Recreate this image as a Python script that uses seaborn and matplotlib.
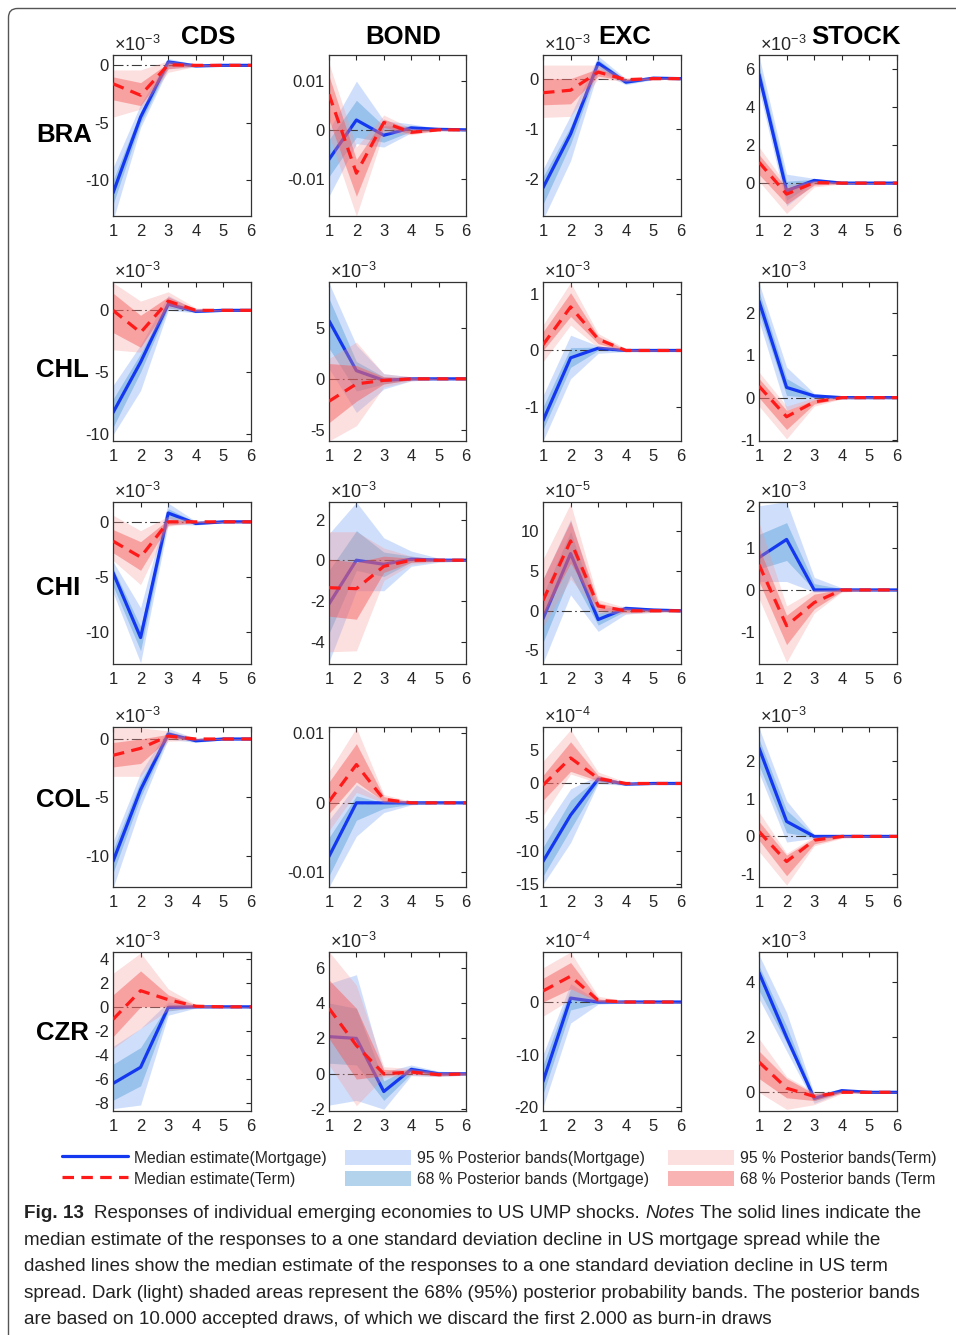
import matplotlib
matplotlib.use("Agg")
import matplotlib.pyplot as plt
import seaborn as sns
import numpy as np
from matplotlib import font_manager as fm
from matplotlib.lines import Line2D
from matplotlib.patches import Patch, FancyBboxPatch
from matplotlib.transforms import IdentityTransform, offset_copy
from matplotlib.ticker import FuncFormatter

# ---------------- data ----------------
HORIZON = [1, 2, 3, 4, 5, 6]
COUNTRIES = ["BRA", "CHL", "CHI", "COL", "CZR"]
VARIABLES = ["CDS", "BOND", "EXC", "STOCK"]
# each panel: [median, lo68, hi68, lo95, hi95]; MORT = mortgage shock, TERM = term shock
BRA_CDS_MORT = [[-11.1, -4.5, 0.3, -0.05, 0, 0], [-12.1, -5.0, -0.1, -0.1, -0.03, -0.02], [-10.0, -4.0, 0.45, 0.05, 0.03, 0.02],
                [-13.5, -5.4, -0.3, -0.15, -0.05, -0.03], [-8.9, -3.4, 0.6, 0.1, 0.05, 0.03]]
BRA_CDS_TERM = [[-1.6, -2.6, 0.05, 0, 0, 0], [-3.0, -3.5, -0.3, -0.05, -0.02, -0.02], [-1.0, -1.5, 0.2, 0.05, 0.02, 0.02],
                [-4.5, -3.8, -0.6, -0.1, -0.04, -0.03], [-0.4, -0.4, 0.4, 0.1, 0.04, 0.03]]
BRA_BOND_MORT = [[-0.006, 0.002, -0.0011, 0.0004, 0.0001, 0], [-0.0095, -0.0015, -0.0025, -0.0003, -0.0001, -0.0001],
                 [-0.002, 0.006, 0.0008, 0.0008, 0.0002, 0.0001], [-0.0135, -0.0028, -0.0035, -0.0006, -0.0002, -0.0001],
                 [0.0, 0.0099, 0.0019, 0.0012, 0.0003, 0.0001]]
BRA_BOND_TERM = [[0.0072, -0.0088, 0.0015, -0.0005, 0, 0], [0.002, -0.0135, 0.0005, -0.0008, -0.0001, -0.0001],
                 [0.011, -0.006, 0.0022, 0.0, 0.0001, 0.0001], [-0.001, -0.0175, -0.0005, -0.001, -0.0002, -0.0001],
                 [0.0135, -0.0035, 0.003, 0.0003, 0.0002, 0.0001]]
BRA_EXC_MORT = [[-2.17, -1.1, 0.31, -0.07, 0.01, 0], [-2.5, -1.3, 0.22, -0.1, -0.01, -0.01], [-1.95, -0.95, 0.38, -0.03, 0.02, 0.01],
                [-2.8, -1.63, 0.15, -0.12, -0.02, -0.01], [-1.8, -0.73, 0.45, 0.0, 0.03, 0.01]]
BRA_EXC_TERM = [[-0.28, -0.23, 0.13, -0.02, 0, 0], [-0.52, -0.5, 0.05, -0.04, -0.01, -0.01], [0.0, 0.0, 0.2, 0.0, 0.01, 0.01],
                [-0.77, -0.75, 0.0, -0.06, -0.02, -0.01], [0.27, 0.27, 0.27, 0.02, 0.02, 0.01]]
BRA_STOCK_MORT = [[5.72, -0.4, 0.14, 0.0, 0, 0], [5.3, -0.9, 0.05, -0.03, -0.02, -0.01], [6.2, 0.1, 0.2, 0.03, 0.02, 0.01],
                  [4.9, -1.2, -0.05, -0.05, -0.03, -0.02], [6.7, 0.47, 0.25, 0.05, 0.03, 0.02]]
BRA_STOCK_TERM = [[1.1, -0.58, 0.03, 0, 0, 0], [0.45, -1.1, -0.1, -0.03, -0.02, -0.01], [1.5, -0.25, 0.1, 0.03, 0.02, 0.01],
                  [0.1, -1.6, -0.2, -0.05, -0.03, -0.02], [1.9, -0.1, 0.15, 0.05, 0.03, 0.02]]

CHL_CDS_MORT = [[-8.3, -4.2, 0.5, -0.08, 0, 0], [-9.5, -5.0, 0.2, -0.15, -0.05, -0.03], [-7.2, -3.5, 0.8, 0.0, 0.05, 0.03],
                [-10.1, -6.5, 0.0, -0.2, -0.08, -0.05], [-6.1, -2.8, 1.2, 0.05, 0.08, 0.05]]
CHL_CDS_TERM = [[0.0, -1.8, 0.75, 0.0, 0, 0], [-1.8, -3.0, 0.4, -0.05, -0.03, -0.02], [1.4, -0.4, 1.1, 0.1, 0.03, 0.02],
                [-3.2, -3.4, 0.2, -0.1, -0.05, -0.03], [2.25, 0.75, 1.5, 0.2, 0.05, 0.03]]
CHL_BOND_MORT = [[5.7, 0.8, -0.15, 0.0, 0, 0], [3.0, -1.2, -0.5, -0.1, -0.03, -0.02], [7.9, 1.7, 0.2, 0.1, 0.03, 0.02],
                 [1.0, -3.3, -1.0, -0.2, -0.05, -0.03], [9.4, 3.3, 0.5, 0.2, 0.05, 0.03]]
CHL_BOND_TERM = [[-2.2, -0.5, -0.15, 0.0, 0, 0], [-4.3, -2.2, -0.5, -0.1, -0.03, -0.02], [1.5, 1.3, 0.2, 0.1, 0.03, 0.02],
                 [-6.1, -4.6, -0.8, -0.2, -0.05, -0.03], [2.0, 3.6, 0.5, 0.2, 0.05, 0.03]]
CHL_EXC_MORT = [[-1.24, -0.13, 0.04, 0.0, 0, 0], [-1.4, -0.3, 0.0, -0.01, -0.01, -0.005], [-1.0, 0.05, 0.06, 0.01, 0.01, 0.005],
                [-1.6, -0.5, -0.05, -0.02, -0.01, -0.01], [-0.8, 0.27, 0.08, 0.02, 0.01, 0.01]]
CHL_EXC_TERM = [[0.1, 0.77, 0.2, 0.0, 0, 0], [0.0, 0.6, 0.12, -0.01, -0.01, -0.005], [0.33, 1.02, 0.25, 0.01, 0.01, 0.005],
                [-0.2, 0.45, 0.05, -0.02, -0.01, -0.01], [0.45, 1.2, 0.3, 0.03, 0.01, 0.01]]
CHL_STOCK_MORT = [[2.27, 0.24, 0.04, 0.0, 0, 0], [2.0, 0.05, 0.0, -0.01, -0.01, -0.01], [2.5, 0.45, 0.07, 0.02, 0.01, 0.01],
                  [1.8, -0.3, -0.05, -0.02, -0.01, -0.01], [2.7, 0.72, 0.1, 0.03, 0.02, 0.01]]
CHL_STOCK_TERM = [[0.27, -0.45, -0.1, 0.0, 0, 0], [0.0, -0.75, -0.15, -0.02, -0.01, -0.01], [0.45, -0.3, -0.05, 0.01, 0.01, 0.01],
                  [-0.2, -0.97, -0.2, -0.03, -0.02, -0.01], [0.6, -0.2, 0.0, 0.02, 0.02, 0.01]]

CHI_CDS_MORT = [[-4.6, -10.5, 0.8, -0.15, 0, 0], [-5.8, -11.7, 0.3, -0.2, -0.05, -0.03], [-4.2, -9.5, 1.2, -0.05, 0.05, 0.03],
                [-6.4, -12.8, -0.2, -0.3, -0.08, -0.05], [-3.6, -7.8, 1.7, 0.05, 0.08, 0.05]]
CHI_CDS_TERM = [[-1.75, -3.2, 0.0, 0.0, 0, 0], [-2.8, -4.4, -0.3, -0.05, -0.03, -0.02], [-0.7, -1.8, 0.2, 0.05, 0.03, 0.02],
                [-3.5, -5.7, -0.4, -0.1, -0.05, -0.03], [0.6, -0.8, 0.5, 0.1, 0.05, 0.03]]
CHI_BOND_MORT = [[-2.15, 0.0, -0.2, 0.05, 0, 0], [-3.6, -0.5, -0.8, -0.1, -0.05, -0.02], [-0.5, 1.45, 0.4, 0.2, 0.05, 0.02],
                 [-5.0, -1.5, -1.5, -0.3, -0.1, -0.05], [1.3, 2.85, 1.1, 0.45, 0.1, 0.05]]
CHI_BOND_TERM = [[-1.35, -1.4, -0.3, 0.0, 0, 0], [-2.75, -2.9, -0.6, -0.1, -0.05, -0.02], [0.05, -0.1, 0.2, 0.1, 0.05, 0.02],
                 [-4.5, -4.45, -1.0, -0.2, -0.08, -0.04], [1.4, 1.4, 0.6, 0.2, 0.08, 0.04]]
CHI_EXC_MORT = [[-1.0, 7.2, -1.1, 0.3, 0.1, 0], [-4.0, 4.5, -1.8, 0.0, -0.1, -0.05], [2.0, 10.0, -0.3, 0.5, 0.2, 0.05],
                [-6.6, 2.0, -2.6, -0.4, -0.2, -0.1], [4.0, 11.5, 0.3, 0.6, 0.3, 0.1]]
CHI_EXC_TERM = [[1.3, 8.8, 0.6, 0.0, 0, 0], [-0.5, 6.0, 0.1, -0.2, -0.1, -0.05], [4.0, 11.3, 1.0, 0.2, 0.1, 0.05],
                [-2.0, 4.0, -0.3, -0.4, -0.2, -0.1], [6.5, 13.5, 1.4, 0.4, 0.2, 0.1]]
CHI_STOCK_MORT = [[0.77, 1.2, 0.0, 0.0, 0, 0], [0.5, 0.7, 0.0, -0.02, -0.01, -0.01], [1.32, 1.6, 0.15, 0.03, 0.01, 0.01],
                  [0.2, 0.2, -0.05, -0.04, -0.02, -0.01], [2.0, 2.1, 0.3, 0.05, 0.02, 0.01]]
CHI_STOCK_TERM = [[0.6, -0.85, -0.3, 0.0, 0, 0], [0.2, -1.3, -0.45, -0.03, -0.01, -0.01], [1.0, -0.6, -0.1, 0.02, 0.01, 0.01],
                  [-0.2, -1.72, -0.55, -0.05, -0.02, -0.01], [1.6, -0.38, 0.0, 0.03, 0.02, 0.01]]

COL_CDS_MORT = [[-10.5, -4.35, 0.43, -0.15, 0, 0], [-11.5, -5.0, 0.2, -0.2, -0.05, -0.03], [-9.5, -3.6, 0.65, -0.05, 0.05, 0.03],
                [-12.8, -5.8, 0.0, -0.3, -0.08, -0.05], [-8.8, -2.9, 0.9, 0.05, 0.08, 0.05]]
COL_CDS_TERM = [[-1.4, -0.8, 0.25, 0.0, 0, 0], [-2.4, -2.1, 0.0, -0.05, -0.03, -0.02], [-0.3, 0.0, 0.4, 0.05, 0.03, 0.02],
                [-3.2, -3.2, -0.2, -0.1, -0.05, -0.03], [0.95, 0.95, 0.7, 0.1, 0.05, 0.03]]
COL_BOND_MORT = [[-0.0077, 0.0, 0.0, 0.0, 0, 0], [-0.0105, -0.0025, -0.0008, -0.0002, -0.0001, 0.0],
                 [-0.005, 0.001, 0.0, 0.0, 0.0, 0.0], [-0.0121, -0.0048, -0.0014, -0.0003, -0.0001, -0.0001],
                 [-0.0025, 0.0026, 0.0003, 0.0001, 0.0001, 0.0001]]
COL_BOND_TERM = [[0.0002, 0.0055, 0.0005, 0.0, 0, 0], [-0.0015, 0.003, 0.0002, 0.0, 0.0, 0.0],
                 [0.003, 0.0085, 0.0009, 0.0001, 0.0, 0.0], [-0.004, 0.0015, 0.0, -0.0001, -0.0001, 0.0],
                 [0.0045, 0.0108, 0.0012, 0.0002, 0.0001, 0.0001]]
COL_EXC_MORT = [[-11.6, -4.7, 0.65, -0.1, 0, 0], [-13.8, -6.8, 0.2, -0.2, -0.05, -0.03], [-9.5, -2.5, 0.9, 0.0, 0.05, 0.03],
                [-15.0, -8.8, 0.0, -0.3, -0.1, -0.05], [-7.0, -0.8, 1.2, 0.1, 0.1, 0.05]]
COL_EXC_TERM = [[-0.25, 3.8, 0.75, 0.0, 0, 0], [-2.5, 1.8, 0.4, -0.1, -0.05, -0.03], [1.2, 6.2, 1.2, 0.1, 0.05, 0.03],
                [-4.8, 1.4, 0.1, -0.2, -0.1, -0.05], [3.3, 8.0, 1.7, 0.2, 0.1, 0.05]]
COL_STOCK_MORT = [[2.36, 0.4, 0.0, 0.0, 0, 0], [1.9, 0.1, -0.03, -0.02, -0.01, -0.01], [2.6, 0.7, 0.03, 0.02, 0.01, 0.01],
                  [1.7, -0.15, -0.05, -0.03, -0.02, -0.01], [2.9, 0.95, 0.05, 0.03, 0.02, 0.01]]
COL_STOCK_TERM = [[0.13, -0.67, -0.1, 0.0, 0, 0], [-0.1, -1.05, -0.2, -0.03, -0.01, -0.01], [0.4, -0.5, -0.05, 0.02, 0.01, 0.01],
                  [-0.4, -1.3, -0.25, -0.05, -0.02, -0.01], [0.65, -0.45, 0.0, 0.03, 0.02, 0.01]]

CZR_CDS_MORT = [[-6.4, -5.05, -0.05, 0.0, 0, 0], [-7.8, -6.6, -0.35, -0.05, -0.03, -0.02], [-4.8, -3.4, 0.2, 0.05, 0.03, 0.02],
                [-8.5, -8.2, -0.7, -0.1, -0.05, -0.03], [-3.3, -1.8, 0.4, 0.1, 0.05, 0.03]]
CZR_CDS_TERM = [[-1.05, 1.35, 0.6, 0.05, 0, 0], [-2.5, 0.0, 0.0, -0.05, -0.03, -0.02], [1.0, 3.0, 1.0, 0.15, 0.03, 0.02],
                [-3.5, -1.8, -0.3, -0.1, -0.05, -0.03], [2.8, 4.5, 1.5, 0.2, 0.05, 0.03]]
CZR_BOND_MORT = [[2.1, 2.0, -1.0, 0.25, 0.0, 0.0], [0.6, 0.5, -1.5, 0.0, -0.1, -0.05], [4.0, 3.7, -0.4, 0.4, 0.1, 0.05],
                 [-1.77, -1.5, -2.0, -0.1, -0.15, -0.08], [5.1, 5.6, 0.1, 0.5, 0.15, 0.08]]
CZR_BOND_TERM = [[3.7, 1.6, 0.0, 0.1, -0.05, 0.0], [2.0, -0.3, -0.1, 0.0, -0.1, -0.05], [5.3, 3.7, 0.25, 0.2, 0.05, 0.05],
                 [0.5, -1.8, -0.2, -0.1, -0.15, -0.08], [6.9, 5.0, 0.4, 0.3, 0.1, 0.08]]
CZR_EXC_MORT = [[-15.1, 0.75, 0.0, 0.0, 0, 0], [-17.5, -1.5, -0.2, -0.1, -0.05, -0.03], [-12.0, 2.5, 0.2, 0.1, 0.05, 0.03],
                [-20.0, -4.0, -0.4, -0.2, -0.1, -0.05], [-10.0, 3.5, 0.3, 0.2, 0.1, 0.05]]
CZR_EXC_TERM = [[2.1, 4.9, 0.3, 0.0, 0, 0], [0.0, 2.5, 0.1, -0.1, -0.05, -0.03], [4.5, 7.5, 0.6, 0.1, 0.05, 0.03],
                [-2.7, 0.5, -0.1, -0.2, -0.1, -0.05], [6.5, 9.5, 1.1, 0.2, 0.1, 0.05]]
CZR_STOCK_MORT = [[4.35, 2.0, -0.22, 0.06, 0.0, 0.0], [3.7, 1.8, -0.3, 0.02, -0.02, -0.01], [4.6, 2.4, -0.12, 0.1, 0.02, 0.01],
                  [3.4, 1.5, -0.4, 0.0, -0.03, -0.02], [5.0, 2.9, -0.05, 0.12, 0.03, 0.02]]
CZR_STOCK_TERM = [[1.1, 0.15, -0.15, 0.0, 0, 0], [0.5, -0.2, -0.3, -0.03, -0.01, -0.01], [1.5, 0.5, -0.05, 0.03, 0.01, 0.01],
                  [0.0, -0.62, -0.45, -0.05, -0.02, -0.01], [1.95, 0.57, 0.0, 0.05, 0.02, 0.01]]

# y tick values, exponents of the "x10^n" labels, y ranges (per country row, per variable column)
BRA_YTICKS = [[-10, -5, 0], [-0.01, 0, 0.01], [-2, -1, 0], [0, 2, 4, 6]]
CHL_YTICKS = [[-10, -5, 0], [-5, 0, 5], [-1, 0, 1], [-1, 0, 1, 2]]
CHI_YTICKS = [[-10, -5, 0], [-4, -2, 0, 2], [-5, 0, 5, 10], [-1, 0, 1, 2]]
COL_YTICKS = [[-10, -5, 0], [-0.01, 0, 0.01], [-15, -10, -5, 0, 5], [-1, 0, 1, 2]]
CZR_YTICKS = [[-8, -6, -4, -2, 0, 2, 4], [-2, 0, 2, 4, 6], [-20, -10, 0], [0, 2, 4]]
BRA_EXP = [-3, None, -3, -3]
CHL_EXP = [-3, -3, -3, -3]
CHI_EXP = [-3, -3, -5, -3]
COL_EXP = [-3, None, -4, -3]
CZR_EXP = [-3, -3, -4, -3]
BRA_YLIM = [(-13.1, 0.9), (-0.0175, 0.0152), (-2.73, 0.47), (-1.73, 6.74)]
CHL_YLIM = [(-10.6, 2.3), (-6.1, 9.5), (-1.6, 1.21), (-1.02, 2.72)]
CHI_YLIM = [(-12.9, 1.8), (-5.1, 2.86), (-6.7, 13.7), (-1.76, 2.09)]
COL_YLIM = [(-12.7, 1.03), (-0.0121, 0.0109), (-15.4, 8.4), (-1.35, 2.92)]
CZR_YLIM = [(-8.7, 4.58), (-2.1, 6.88), (-20.7, 9.5), (-0.68, 5.1)]

LEGEND_LABELS = ["Median estimate(Mortgage)", "Median estimate(Term)",
                 "95 % Posterior bands(Mortgage)", "68 % Posterior bands (Mortgage)",
                 "95 % Posterior bands(Term)", "68 % Posterior bands (Term"]
CAPTION_LINES = [
    None,
    "median estimate of the responses to a one standard deviation decline in US mortgage spread while the",
    "dashed lines show the median estimate of the responses to a one standard deviation decline in US term",
    "spread. Dark (light) shaded areas represent the 68% (95%) posterior probability bands. The posterior bands",
    "are based on 10.000 accepted draws, of which we discard the first 2.000 as burn-in draws",
]
CAPTION_FIRST = [("Fig. 13", "bold", "normal"),
                 ("Responses of individual emerging economies to US UMP shocks.", "normal", "normal"),
                 ("Notes", "normal", "italic"),
                 ("The solid lines indicate the", "normal", "normal")]

# ---------------- style ----------------
sns.set_theme(style="white")
plt.rcParams["font.family"] = ["Liberation Sans", "DejaVu Sans"]
plt.rcParams["axes.unicode_minus"] = False
plt.rcParams["mathtext.fontset"] = "custom"
plt.rcParams["mathtext.rm"] = "Liberation Sans"
plt.rcParams["mathtext.it"] = "Liberation Sans:italic"
plt.rcParams["mathtext.bf"] = "Liberation Sans:bold"

names = {f.name for f in fm.fontManager.ttflist}
CAP_FAMILY = ["Liberation Sans Narrow", "Liberation Sans"] if "Liberation Sans Narrow" in names else ["Liberation Sans"]

BLUE = "#1438f0"
RED = "#ff1a1a"
B95, A95 = (0.39, 0.59, 0.96), 0.30
B68, A68 = (0.34, 0.62, 0.85), 0.45
R95, AR95 = (0.97, 0.59, 0.59), 0.30
R68, AR68 = (0.96, 0.34, 0.34), 0.45
DASH = (0, (3.6, 2.3))
TXT = "#262626"

W, H = 956, 1335
fig = plt.figure(figsize=(W / 100, H / 100), dpi=100)
fig.patch.set_facecolor("white")

COLS_PX = [(113, 251), (329, 466), (543, 681), (759, 897)]
ROWS_PX = [(55, 216), (282, 441), (502, 664), (727, 887), (952, 1111)]

ROW_DATA = {
    "BRA": ([BRA_CDS_MORT, BRA_BOND_MORT, BRA_EXC_MORT, BRA_STOCK_MORT],
            [BRA_CDS_TERM, BRA_BOND_TERM, BRA_EXC_TERM, BRA_STOCK_TERM], BRA_YTICKS, BRA_EXP, BRA_YLIM),
    "CHL": ([CHL_CDS_MORT, CHL_BOND_MORT, CHL_EXC_MORT, CHL_STOCK_MORT],
            [CHL_CDS_TERM, CHL_BOND_TERM, CHL_EXC_TERM, CHL_STOCK_TERM], CHL_YTICKS, CHL_EXP, CHL_YLIM),
    "CHI": ([CHI_CDS_MORT, CHI_BOND_MORT, CHI_EXC_MORT, CHI_STOCK_MORT],
            [CHI_CDS_TERM, CHI_BOND_TERM, CHI_EXC_TERM, CHI_STOCK_TERM], CHI_YTICKS, CHI_EXP, CHI_YLIM),
    "COL": ([COL_CDS_MORT, COL_BOND_MORT, COL_EXC_MORT, COL_STOCK_MORT],
            [COL_CDS_TERM, COL_BOND_TERM, COL_EXC_TERM, COL_STOCK_TERM], COL_YTICKS, COL_EXP, COL_YLIM),
    "CZR": ([CZR_CDS_MORT, CZR_BOND_MORT, CZR_EXC_MORT, CZR_STOCK_MORT],
            [CZR_CDS_TERM, CZR_BOND_TERM, CZR_EXC_TERM, CZR_STOCK_TERM], CZR_YTICKS, CZR_EXP, CZR_YLIM),
}

fmt = FuncFormatter(lambda v, p: "{:g}".format(round(v, 6)) if v != 0 else "0")

for i, country in enumerate(COUNTRIES):
    morts, terms, yticks, exps, ylims = ROW_DATA[country]
    top, bot = ROWS_PX[i]
    for j, var in enumerate(VARIABLES):
        l, r = COLS_PX[j]
        ax = fig.add_axes([l / W, 1 - bot / H, (r - l) / W, (bot - top) / H])
        M, T = morts[j], terms[j]
        ax.fill_between(HORIZON, M[3], M[4], color=B95, alpha=A95, lw=0, zorder=1)
        ax.fill_between(HORIZON, M[1], M[2], color=B68, alpha=A68, lw=0, zorder=1.1)
        ax.axhline(0, color="#3a3a3a", lw=0.8, linestyle=(0, (9, 3, 1.5, 3)), zorder=1.5)
        sns.lineplot(x=HORIZON, y=M[0], color=BLUE, lw=2.3, ax=ax, zorder=2)
        ax.fill_between(HORIZON, T[3], T[4], color=R95, alpha=AR95, lw=0, zorder=2.1)
        ax.fill_between(HORIZON, T[1], T[2], color=R68, alpha=AR68, lw=0, zorder=2.2)
        sns.lineplot(x=HORIZON, y=T[0], color=RED, lw=2.3, linestyle=DASH, ax=ax, zorder=3)
        ax.set_xlim(1, 6)
        ax.set_xticks(HORIZON)
        ax.set_ylim(*ylims[j])
        ax.set_yticks(yticks[j])
        ax.yaxis.set_major_formatter(fmt)
        ax.set_xlabel("")
        ax.set_ylabel("")
        ax.tick_params(direction="in", length=3.5, width=0.8, top=True, right=True,
                       labelsize=12, colors=TXT)
        ax.tick_params(axis="x", pad=6)
        ax.tick_params(axis="y", pad=3)
        for s in ax.spines.values():
            s.set_visible(True)
            s.set_color("#333333")
            s.set_linewidth(0.9)
        if exps[j] is not None:
            tr = offset_copy(ax.transAxes, fig=fig, x=1, y=4, units="dots")
            ax.text(0, 1, r"$\times10^{%d}$" % exps[j], transform=tr, ha="left", va="baseline",
                    fontsize=13, color=TXT)

# column titles
TITLE_X = [208, 403, 625, 856]
for x, v in zip(TITLE_X, VARIABLES):
    fig.text(x / W, 1 - 43.5 / H, v, ha="center", va="baseline", fontsize=18.5, fontweight="bold", color="black")
# row labels
ROW_BASE = [142, 377, 595, 807, 1040]
for yb, c in zip(ROW_BASE, COUNTRIES):
    fig.text(36 / W, 1 - yb / H, c, ha="left", va="baseline", fontsize=18.5, fontweight="bold", color="black")

# legend (three columns)
handles = [Line2D([], [], color=BLUE, lw=2.3), Line2D([], [], color=RED, lw=2.3, linestyle=DASH),
           Patch(facecolor=B95, alpha=A95, lw=0), Patch(facecolor=B68, alpha=A68, lw=0),
           Patch(facecolor=R95, alpha=AR95, lw=0), Patch(facecolor=R68, alpha=AR68, lw=0)]
LEG_X = [62, 345, 668]
for k in range(3):
    fig.legend(handles[2 * k:2 * k + 2], LEGEND_LABELS[2 * k:2 * k + 2], loc="upper left",
               bbox_to_anchor=(LEG_X[k] / W, 1 - 1150 / H), frameon=False, fontsize=11.3,
               handlelength=4.2, handleheight=1.1, handletextpad=0.4, labelspacing=0.33,
               borderpad=0, borderaxespad=0, labelcolor=TXT)

# caption
renderer = fig.canvas.get_renderer()


def text_width(s, size, weight="normal", style="normal"):
    t = fig.text(0, 0, s, fontsize=size, family=CAP_FAMILY, fontweight=weight, fontstyle=style)
    w = t.get_window_extent(renderer).width
    t.remove()
    return w


base_size = 13.0
base_space = text_width("x x", base_size) - text_width("xx", base_size)
first_w = sum(text_width(s, base_size, wg, st) for s, wg, st in CAPTION_FIRST) + base_space * 4
widths = [first_w] + [text_width(s, base_size) for s in CAPTION_LINES[1:4]]
cap_size = base_size * min(900.0 / w for w in widths)
space_w = text_width("x x", cap_size) - text_width("xx", cap_size)

CAP_X0 = 24
CAP_BASE = [1218 + 26.6 * k for k in range(5)]
x = CAP_X0
for n, (s, wgt, sty) in enumerate(CAPTION_FIRST):
    t = fig.text(x / W, 1 - CAP_BASE[0] / H, s, fontsize=cap_size, family=CAP_FAMILY,
                 fontweight=wgt, fontstyle=sty, ha="left", va="baseline", color="#222222")
    x += t.get_window_extent(renderer).width + space_w * (2 if n == 0 else 1)
for k in range(1, 5):
    fig.text(CAP_X0 / W, 1 - CAP_BASE[k] / H, CAPTION_LINES[k], fontsize=cap_size, family=CAP_FAMILY,
             ha="left", va="baseline", color="#222222")

# outer rounded frame
frame = FancyBboxPatch((8.5, -30), 1000, H - 8.5 + 30, boxstyle="round,pad=0,rounding_size=9",
                       transform=IdentityTransform(), facecolor="none", edgecolor="#555555", lw=1.0)
fig.add_artist(frame)

fig.savefig("out.png", dpi=100)
